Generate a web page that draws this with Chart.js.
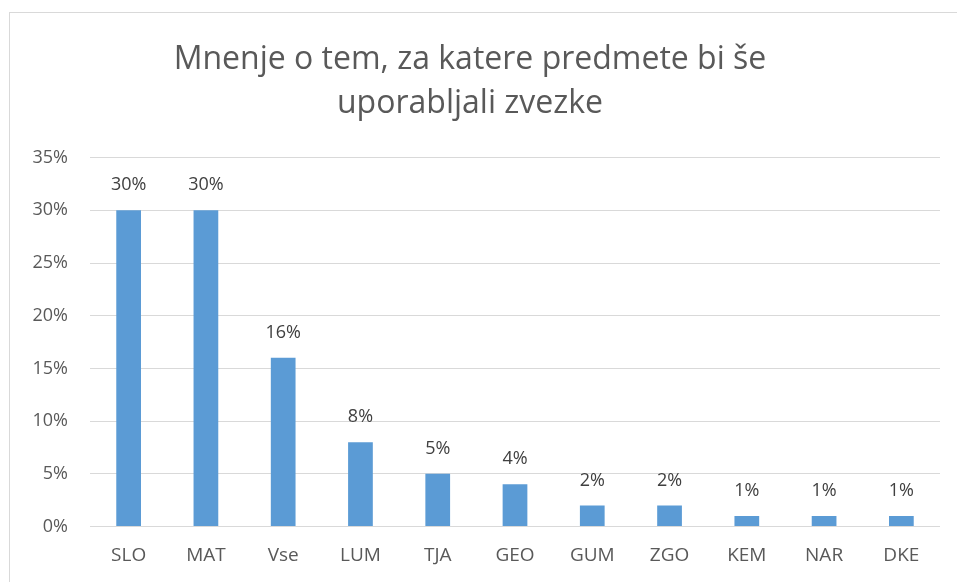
<!DOCTYPE html>
<html>
<head>
<meta charset="utf-8">
<script src="https://cdn.jsdelivr.net/npm/chart.js@4"></script>
<style>
  html, body { margin: 0; padding: 0; background: #fff; overflow: hidden; }
  #frame {
    position: absolute; left: 9px; top: 12px; width: 960px; height: 580px;
    border: 1px solid #d9d9d9; box-sizing: border-box;
  }
  #wrap { position: absolute; left: 0; top: 0; width: 957px; height: 582px; }
</style>
</head>
<body>
<div id="frame"></div>
<div id="wrap"><canvas id="chart"></canvas></div>
<script>
const categories = ['SLO', 'MAT', 'Vse', 'LUM', 'TJA', 'GEO', 'GUM', 'ZGO', 'KEM', 'NAR', 'DKE'];
const shares = [30, 30, 16, 8, 5, 4, 2, 2, 1, 1, 1];
const yTicks = [0, 5, 10, 15, 20, 25, 30, 35];
const titleLines = ['Mnenje o tem, za katere predmete bi še', 'uporabljali zvezke'];

const fontFamily = '"Open Sans", Lato, sans-serif';

// value labels above the bars
const barLabels = {
  id: 'barLabels',
  afterDatasetsDraw(chart) {
    const ctx = chart.ctx;
    const meta = chart.getDatasetMeta(0);
    ctx.save();
    ctx.font = '18px ' + fontFamily;
    ctx.fillStyle = '#404040';
    ctx.textAlign = 'center';
    ctx.textBaseline = 'middle';
    meta.data.forEach((bar, i) => {
      ctx.fillText(shares[i] + '%', bar.x, bar.y - 25);
    });
    ctx.restore();
  }
};

new Chart(document.getElementById('chart'), {
  type: 'bar',
  data: {
    labels: categories,
    datasets: [{
      data: shares,
      backgroundColor: '#5b9bd5',
      borderWidth: 0,
      barPercentage: 0.32,
      categoryPercentage: 1
    }]
  },
  options: {
    responsive: true,
    maintainAspectRatio: false,
    animation: false,
    layout: { padding: { left: 0, right: 17, top: 0, bottom: 0 } },
    plugins: {
      legend: { display: false },
      tooltip: { enabled: false },
      title: {
        display: true,
        text: titleLines,
        color: '#595959',
        font: { family: fontFamily, size: 32, weight: 'normal', lineHeight: 1.4 },
        padding: { top: 37, bottom: 31 }
      }
    },
    scales: {
      x: {
        grid: { display: false, drawTicks: false },
        border: { display: false },
        ticks: { color: '#595959', font: { family: fontFamily, size: 19 }, padding: 18 },
        afterFit(axis) { axis.height = 55.5; }
      },
      y: {
        min: 0,
        max: 35,
        afterBuildTicks(axis) { axis.ticks = yTicks.map(v => ({ value: v })); },
        grid: { color: '#d9d9d9', drawTicks: false },
        border: { display: false },
        ticks: {
          color: '#595959',
          font: { family: fontFamily, size: 18 },
          padding: 22,
          callback: v => v + '%'
        },
        afterFit(axis) { axis.width = 90; }
      }
    }
  },
  plugins: [barLabels]
});
</script>
</body>
</html>
